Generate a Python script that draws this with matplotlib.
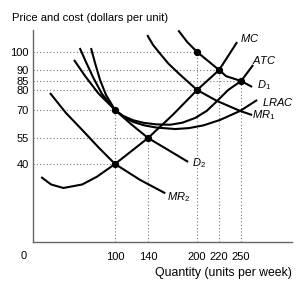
import numpy as np
import matplotlib
matplotlib.use('Agg')
import matplotlib.pyplot as plt

plt.rcParams['font.family'] = ['Liberation Sans', 'DejaVu Sans']
plt.rcParams['mathtext.fontset'] = 'custom'
plt.rcParams['mathtext.rm'] = 'Liberation Sans'
plt.rcParams['mathtext.it'] = 'Liberation Sans:italic'

# curves (quantity, price)
mc_q = [10, 22, 37, 60, 78, 100, 140, 170, 200, 220, 244.5]
mc_p = [33.3, 29.5, 27.7, 29.5, 33.5, 40, 55, 67.3, 80, 90, 105.5]

d1_q = [177, 188, 200, 220, 229.5, 250, 263.4]
d1_p = [112, 105.5, 100, 90, 87.2, 85, 81.7]

mr1_q = [139, 146, 155, 165, 177, 200, 218.2, 248.6, 263.4]
mr1_p = [109.4, 104, 98.9, 93.5, 88.6, 80, 74.5, 69.5, 67.3]

atc_q = [57, 64.6, 73.2, 84.1, 100, 110, 122, 135, 150, 167, 182, 198, 208.9, 218.2, 232.3, 250, 264.6]
atc_p = [102.2, 94.4, 86.7, 78, 70, 66.8, 64.5, 63.1, 62.3, 62.1, 63.2, 65.8, 69.6, 74.5, 80, 85, 92.8]

lrac_q = [70.7, 75.6, 81.7, 89, 100, 110, 122, 135, 150, 173.2, 190, 206, 221.4, 248.6, 269.5]
lrac_p = [102.2, 93.9, 85.5, 77.5, 70, 66.4, 63.6, 61.8, 60.6, 59.8, 60.3, 61.8, 64.7, 69.5, 75]

d2_q = [50, 63.4, 79.3, 100, 120, 140, 164.6, 189]
d2_p = [95.6, 87.3, 78.5, 70, 62.2, 55, 48.1, 41.2]

mr2_q = [20.7, 40, 60, 80, 100, 130.5, 161]
mr2_p = [78.5, 68.5, 59.3, 49.5, 40, 31.8, 25]

# marked points
pt_q = [200, 220, 250, 200, 100, 140, 100]
pt_p = [100, 90, 85, 80, 70, 55, 40]

x_ticks = [100, 140, 200, 220, 250]
y_ticks = [40, 55, 70, 80, 85, 90, 100]

# neither axis of the original is drawn to a linear scale
x_vals = [0, 100, 140, 200, 220, 250, 320]
x_pos = [0, 82, 115, 164, 186, 208, 265.4]
y_vals = [0, 40, 55, 70, 80, 85, 90, 100, 120]
y_pos = [0, 78, 104, 132, 152, 161, 172, 190, 226]


def xf(v):
    return np.interp(v, x_vals, x_pos)


def xi(p):
    return np.interp(p, x_pos, x_vals)


def yf(v):
    return np.interp(v, y_vals, y_pos)


def yi(p):
    return np.interp(p, y_pos, y_vals)


fig = plt.figure(figsize=(2.97, 2.91), dpi=100)
ax = fig.add_axes([33 / 297, 49 / 291, 259 / 297, 211.6 / 291])
ax.set_xscale('function', functions=(xf, xi))
ax.set_yscale('function', functions=(yf, yi))
ax.set_xlim(0, 312)
ax.set_ylim(0, 112)

for s in ['top', 'right']:
    ax.spines[s].set_visible(False)
for s in ['left', 'bottom']:
    ax.spines[s].set_color('#666666')
    ax.spines[s].set_linewidth(1.0)

# guide lines
dot = dict(color='#777777', lw=0.8, ls=(0, (1, 2)), zorder=1)
for q, p in zip(pt_q, pt_p):
    ax.plot([0, q], [p, p], **dot)
for q in x_ticks:
    p = max(pp for qq, pp in zip(pt_q, pt_p) if qq == q)
    ax.plot([q, q], [0, p], **dot)

kw = dict(color='black', lw=1.5, solid_capstyle='butt', solid_joinstyle='round', clip_on=False, zorder=3)
ax.plot(mc_q, mc_p, **kw)
ax.plot(d1_q, d1_p, **kw)
ax.plot(mr1_q, mr1_p, **kw)
ax.plot(atc_q, atc_p, **kw)
ax.plot(lrac_q, lrac_p, **kw)
ax.plot(d2_q, d2_p, **kw)
ax.plot(mr2_q, mr2_p, **kw)

ax.scatter(pt_q, pt_p, s=18, color='black', zorder=4, clip_on=False)

ax.set_xticks(x_ticks)
ax.set_yticks(y_ticks)
ax.set_xticklabels([str(v) for v in x_ticks])
ax.set_yticklabels([str(v) for v in y_ticks])
ax.xaxis.set_minor_locator(matplotlib.ticker.NullLocator())
ax.yaxis.set_minor_locator(matplotlib.ticker.NullLocator())
ax.tick_params(length=0, labelsize=8)
ax.tick_params(axis='x', pad=7)
ax.tick_params(axis='y', pad=3)
ax.annotate('0', xy=(0, 0), xytext=(-9, -14), textcoords='offset pixels',
            fontsize=8, ha='center', va='center')

lab = dict(fontsize=8, ha='left', va='center')
fig.text(12 / 297, 1 - 18 / 291, 'Price and cost (dollars per unit)', fontsize=8.1, ha='left', va='center')
fig.text(292 / 297, 1 - 273 / 291, 'Quantity (units per week)', fontsize=8.8, ha='right', va='center')

ax.text(248.6, 108, r'$MC$', **lab)
ax.text(263.4, 95.5, r'$ATC$', **lab)
ax.text(269.5, 82.5, r'$D_1$', **lab)
ax.text(275.6, 74, r'$LRAC$', **lab)
ax.text(263.4, 67.5, r'$MR_1$', **lab)
ax.text(194, 40.5, r'$D_2$', **lab)
ax.text(163, 23, r'$MR_2$', **lab)

fig.savefig('out.png', dpi=100)
